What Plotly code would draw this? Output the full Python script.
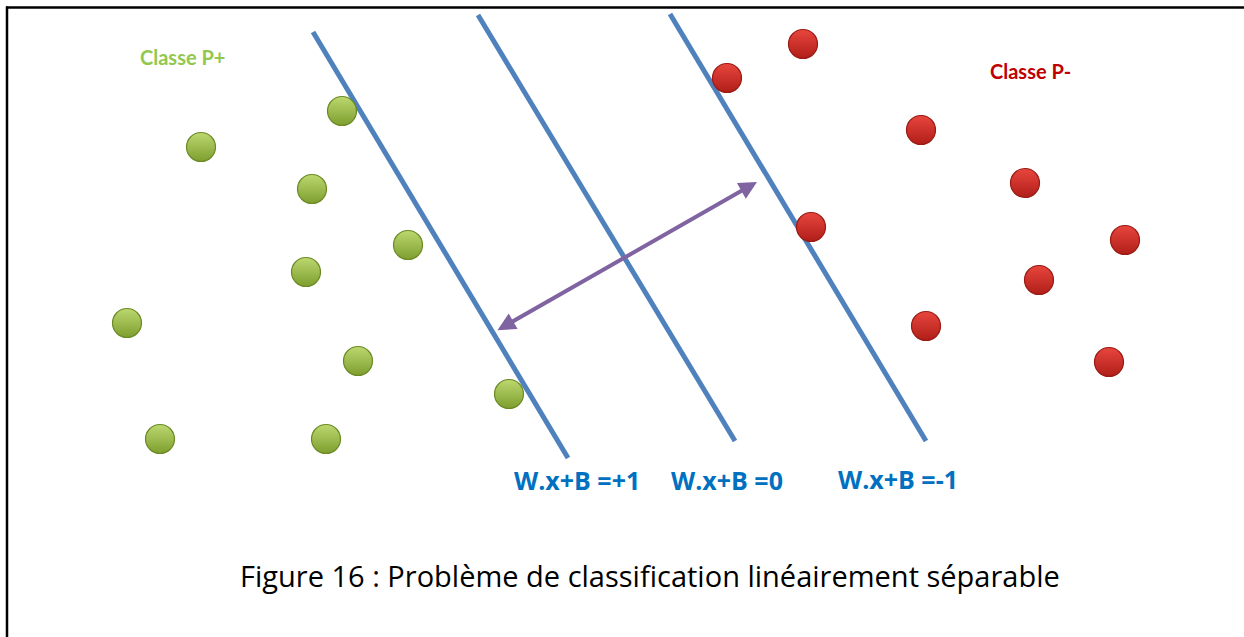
import plotly.graph_objects as go

# Class P+ points (green)
green_x = [201, 342, 312, 408, 306, 127, 358, 509, 160, 326]
green_y = [147, 111, 189, 245, 272, 323, 361, 394, 439, 439]
# Class P- points (red)
red_x = [803, 727, 921, 1025, 811, 1125, 1039, 926, 1109]
red_y = [44, 78, 130, 183, 227, 240, 280, 326, 362]

# Hyperplanes (start/end points)
plane_labels = ["W.x+B =+1", "W.x+B =0", "W.x+B =-1"]
plane_x0 = [313, 478, 670]
plane_y0 = [32, 15, 14]
plane_x1 = [568, 735, 926]
plane_y1 = [458, 441, 441]
label_x = [577, 727, 898]
label_y = [480, 480, 479]

# Margin arrow
arrow_start = (496, 331)
arrow_end = (757, 182)

caption = "Figure 16 : Problème de classification linéairement séparable"

fig = go.Figure()

for i in range(len(plane_labels)):
    fig.add_trace(go.Scatter(
        x=[plane_x0[i], plane_x1[i]], y=[plane_y0[i], plane_y1[i]],
        mode="lines", line=dict(color="#4F81BD", width=5),
        hoverinfo="skip", showlegend=False))

fig.add_trace(go.Scatter(
    x=green_x, y=green_y, mode="markers", name="Classe P+",
    marker=dict(size=29, color="#BCD870",
                gradient=dict(type="vertical", color="#7E9E2E"),
                line=dict(color="#6B8A25", width=1.2)),
    showlegend=False))
fig.add_trace(go.Scatter(
    x=red_x, y=red_y, mode="markers", name="Classe P-",
    marker=dict(size=29, color="#E8463E",
                gradient=dict(type="vertical", color="#B01E18"),
                line=dict(color="#9A1A14", width=1.2)),
    showlegend=False))

fig.add_annotation(x=arrow_end[0], y=arrow_end[1], ax=arrow_start[0], ay=arrow_start[1],
                   xref="x", yref="y", axref="x", ayref="y", text="",
                   showarrow=True, arrowhead=2, startarrowhead=2, arrowside="end+start",
                   arrowsize=0.9, startarrowsize=0.9, arrowwidth=4, arrowcolor="#8064A2")

for i in range(len(plane_labels)):
    fig.add_annotation(x=label_x[i], y=label_y[i], text="<b>" + plane_labels[i] + "</b>",
                       showarrow=False, xref="x", yref="y",
                       font=dict(family="Open Sans", size=25, color="#0070C0"))

fig.add_annotation(x=182, y=57, text="<b>Classe P+</b>", showarrow=False, xref="x", yref="y",
                   font=dict(family="Lato", size=20, color="#92C84E"))
fig.add_annotation(x=1030, y=71, text="<b>Classe P-</b>", showarrow=False, xref="x", yref="y",
                   font=dict(family="Lato", size=20, color="#C00000"))

fig.add_annotation(x=650, y=575, text=caption, showarrow=False, xref="x", yref="y",
                   font=dict(family="Open Sans", size=29, color="#000000"))

# frame
fig.add_shape(type="line", xref="paper", yref="paper", x0=6/1244, x1=1, y0=1-7.5/637, y1=1-7.5/637,
              line=dict(color="black", width=2.5))
fig.add_shape(type="line", xref="paper", yref="paper", x0=7/1244, x1=7/1244, y0=0, y1=1-6.5/637,
              line=dict(color="black", width=2.5))

fig.update_layout(
    width=1244, height=637, margin=dict(l=0, r=0, t=0, b=0),
    paper_bgcolor="white", plot_bgcolor="white",
    xaxis=dict(range=[0, 1244], visible=False, fixedrange=True),
    yaxis=dict(range=[637, 0], visible=False, fixedrange=True),
)

fig.write_html("out.html", config={"displayModeBar": False},
               post_script="document.body.style.margin='0px';")
